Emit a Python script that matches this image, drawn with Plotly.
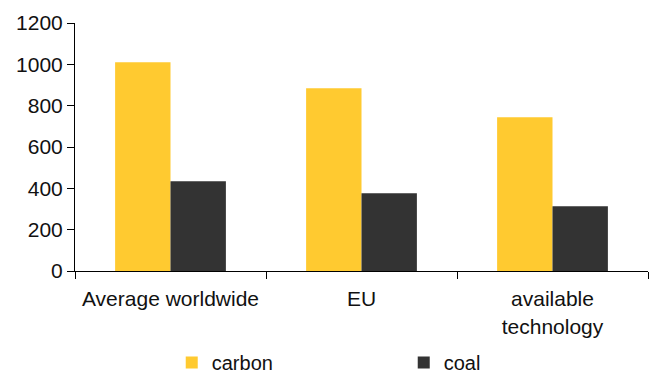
import plotly.graph_objects as go

categories = ["Average worldwide", "EU", "available<br>technology"]
carbon = [1010, 884, 744]
coal = [434, 376, 313]
y_ticks = [0, 200, 400, 600, 800, 1000, 1200]

FONT = "Liberation Sans, Arial, sans-serif"

fig = go.Figure()
fig.add_trace(go.Bar(name="carbon", x=categories, y=carbon, marker_color="#FFCA30", marker_line_width=0))
fig.add_trace(go.Bar(name="coal", x=categories, y=coal, marker_color="#333333", marker_line_width=0))

fig.update_layout(
    width=658, height=376,
    margin=dict(l=75, r=10, t=23, b=105, autoexpand=False),
    paper_bgcolor="white", plot_bgcolor="white",
    barmode="group", bargap=0.42, bargroupgap=0,
    font=dict(family=FONT, size=21, color="#111111"),
    legend=dict(orientation="h", xref="container", x=0.261, xanchor="left",
                yref="container", y=0.036, yanchor="middle",
                entrywidth=187, entrywidthmode="pixels", font=dict(size=20),
                itemwidth=30, traceorder="normal", bgcolor="rgba(0,0,0,0)"),
    showlegend=True,
)
fig.update_xaxes(showline=True, linecolor="black", linewidth=1, ticks="outside",
                 tickson="boundaries", ticklen=7, tickcolor="black", showgrid=False,
                 ticklabelstandoff=9)
fig.update_yaxes(range=[0, 1200], tickvals=y_ticks, showline=True, linecolor="black",
                 linewidth=1, ticks="outside", ticklen=7, tickcolor="black",
                 showgrid=False, zeroline=False)

fig.write_html("out.html")
